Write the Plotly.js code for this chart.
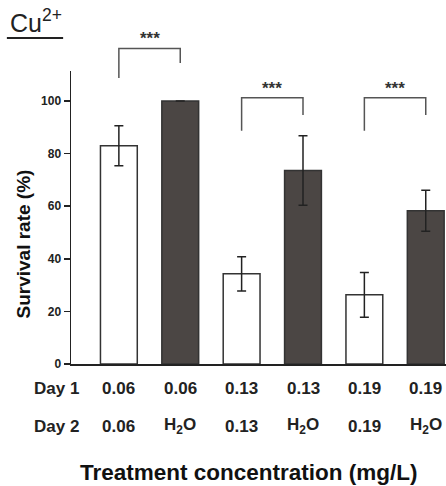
<!DOCTYPE html>
<html>
<head>
<meta charset="utf-8">
<script src="https://cdn.plot.ly/plotly-3.0.1.min.js"></script>
<style>html,body{margin:0;padding:0;background:#fff;}#chart{width:446px;height:486px;}</style>
</head>
<body>
<div id="chart"></div>
<script>
// ---- data ----
var day1Labels = ['0.06', '0.06', '0.13', '0.13', '0.19', '0.19'];
var day2Labels = ['0.06', 'H<sub>2</sub>O', '0.13', 'H<sub>2</sub>O', '0.19', 'H<sub>2</sub>O'];
var survival = [83, 100, 34.3, 73.6, 26.3, 58.3];
var survivalErr = [7.6, 0, 6.5, 13.2, 8.5, 7.8];
var rowLabels = ['Day 1', 'Day 2'];
var sigPairs = [[0, 1], [2, 3], [4, 5]];
var sigMarks = ['***', '***', '***'];
var yTicks = [0, 20, 40, 60, 80, 100];

// ---- layout helpers ----
var FONT = 'Liberation Sans, Arial, Helvetica, sans-serif';
var YMAX = 111.4;
var bracketGeom = [
  {top: 120, left: 108.7, right: 114.4},
  {top: 101.2, left: 88.7, right: 94.7},
  {top: 101.2, left: 88.7, right: 94.7}
];
function yp(v) { return v / YMAX; }

var xs = survival.map(function (_, i) { return i; });
var fills = xs.map(function (i) { return i % 2 === 0 ? '#ffffff' : '#4b4644'; });

var trace = {
  type: 'bar',
  x: xs,
  y: survival,
  width: 0.6,
  marker: {color: fills, line: {color: '#333333', width: 1.5}},
  error_y: {type: 'data', array: survivalErr, visible: true, color: '#222222', thickness: 1.5, width: 4.5},
  hoverinfo: 'y'
};

var shapes = [];
var annotations = [];

// underline below the "Cu2+" title
shapes.push({type: 'line', xref: 'paper', yref: 'paper', x0: -0.171, x1: -0.021, y0: 1.1126, y1: 1.1126,
  line: {color: '#222222', width: 2}});

sigPairs.forEach(function (p, k) {
  var g = bracketGeom[k];
  shapes.push({
    type: 'path', xref: 'x', yref: 'paper',
    path: 'M ' + p[0] + ',' + yp(g.left) + ' L ' + p[0] + ',' + yp(g.top) + ' L ' + p[1] + ',' + yp(g.top) + ' L ' + p[1] + ',' + yp(g.right),
    line: {color: '#555555', width: 1.5}
  });
  annotations.push({
    xref: 'x', yref: 'paper', x: (p[0] + p[1]) / 2, y: yp(g.top) - 0.006, yanchor: 'bottom',
    text: sigMarks[k], showarrow: false, font: {family: FONT, size: 17, color: '#333333', weight: 700}
  });
});

var rowY = [-0.082, -0.212];
[day1Labels, day2Labels].forEach(function (labels, r) {
  annotations.push({
    xref: 'paper', yref: 'paper', x: -0.039, y: rowY[r], xanchor: 'center', yanchor: 'middle',
    text: rowLabels[r], showarrow: false, font: {family: FONT, size: 17, color: '#222222', weight: 700}
  });
  labels.forEach(function (t, i) {
    annotations.push({
      xref: 'x', yref: 'paper', x: xs[i], y: rowY[r], xanchor: 'center', yanchor: 'middle',
      text: t, showarrow: false, font: {family: FONT, size: 17, color: '#222222', weight: 700}
    });
  });
});

// axis titles placed as annotations to match the reference position
annotations.push({
  xref: 'paper', yref: 'paper', x: 0.475, y: -0.369, xanchor: 'center', yanchor: 'middle',
  text: 'Treatment concentration (mg/L)', showarrow: false,
  font: {family: FONT, size: 22.5, color: '#111111', weight: 700}
});
annotations.push({
  xref: 'paper', yref: 'paper', x: -0.1267, y: 0.4095, xanchor: 'center', yanchor: 'middle',
  text: 'Survival rate (%)', textangle: -90, showarrow: false,
  font: {family: FONT, size: 19, color: '#111111', weight: 700}
});

var layout = {
  width: 446, height: 486,
  margin: {l: 71, r: 0, t: 71, b: 122, pad: 0},
  paper_bgcolor: '#ffffff', plot_bgcolor: '#ffffff',
  showlegend: false,
  title: {
    text: 'Cu<sup>2+</sup>', xref: 'container', yref: 'container',
    x: 10 / 446, xanchor: 'left', y: 1 - 23 / 486, yanchor: 'middle',
    font: {family: FONT, size: 25, color: '#222222'}
  },
  xaxis: {
    type: 'linear', range: [-0.78, 5.33], showline: true, linecolor: '#222222', linewidth: 1.5,
    showticklabels: false, ticks: '', showgrid: false, zeroline: false, fixedrange: true
  },
  yaxis: {
    range: [0, YMAX], showline: true, linecolor: '#222222', linewidth: 1.5,
    ticks: 'outside', ticklen: 6, tickwidth: 1.5, tickcolor: '#222222',
    tickvals: yTicks, ticktext: yTicks.map(String),
    tickfont: {family: FONT, size: 12, color: '#222222', weight: 700},
    showgrid: false, zeroline: false, fixedrange: true
  },
  shapes: shapes,
  annotations: annotations
};

Plotly.newPlot('chart', [trace], layout, {displayModeBar: false, staticPlot: true});
</script>
</body>
</html>
